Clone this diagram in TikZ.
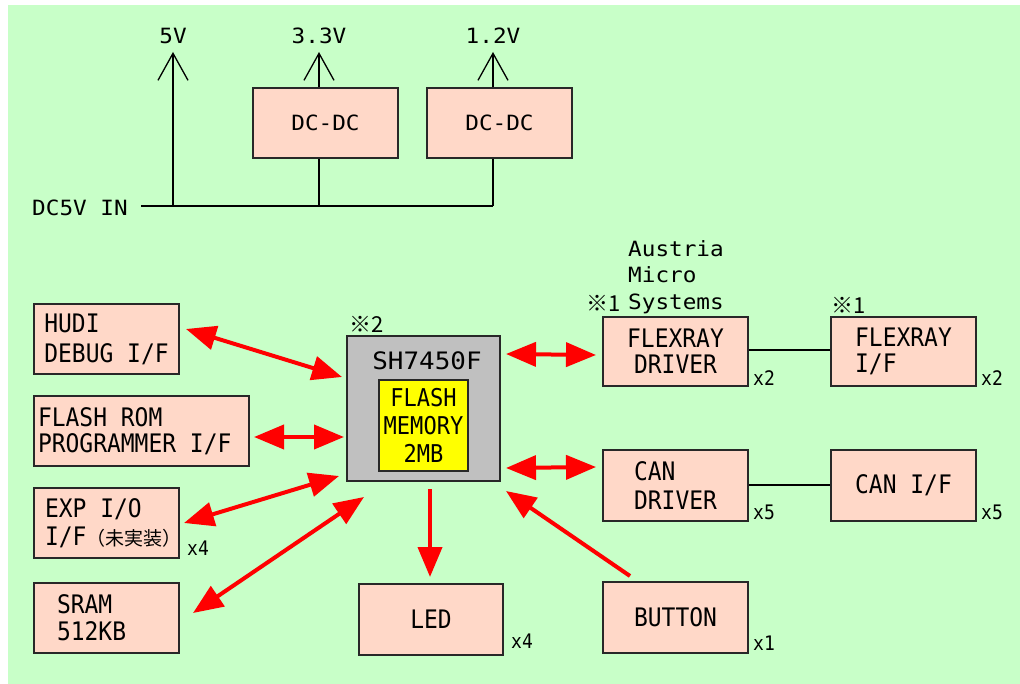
\documentclass[tikz,border=0pt]{standalone}
\usepackage{fontspec}
\usetikzlibrary{arrows.meta,calc}
\newfontfamily\gfont[FakeStretch=0.9,WordSpace={1,0,0}]{DejaVu Sans Mono}
\newfontfamily\gfontw[FakeStretch=1.08,WordSpace={1,0,0}]{DejaVu Sans Mono}
\newfontfamily\jfont{Noto Sans CJK JP}
\newcommand\mysp{\spaceskip=0pt\relax\xspaceskip=0pt\relax}
\definecolor{bggreen}{RGB}{200,255,200}
\definecolor{peach}{RGB}{255,216,200}
\definecolor{chipgray}{RGB}{192,192,192}
\definecolor{memyellow}{RGB}{255,255,0}
\definecolor{edge}{RGB}{40,40,40}
\begin{document}
\begin{tikzpicture}[x=1pt,y=-1pt,
  box/.style={draw=edge, line width=2pt, fill=peach, minimum width=145pt, minimum height=70pt, inner sep=0pt, align=center, font=\gfont\fontsize{25.5}{27}\selectfont},
  vlab/.style={inner sep=0pt, font=\gfontw\fontsize{21}{24}\selectfont},
  xlab/.style={inner sep=0pt, anchor=base west, font=\gfont\fontsize{20}{20}\selectfont},
  note/.style={inner sep=0pt, font=\jfont\fontsize{22}{24}\selectfont},
  wire/.style={draw=black, line width=2pt},
  varrow/.style={draw=black, line width=2pt, -{Straight Barb[length=27pt,width=30pt,line width=1.3pt]}},
  rtip/.tip={Triangle[length=30pt,width=24pt]},
  rarrow/.style={draw=red, line width=4pt, rtip-rtip},
  rarrowone/.style={draw=red, line width=4pt, -rtip}
]
\useasboundingbox (0,0) rectangle (1020,684);
\fill[white] (0,0) rectangle (1020,684);
\fill[bggreen] (8,5) rectangle (1020,684);

% ---------- power section ----------
\node[vlab] (v5) at (173,36) {5V};
\node[vlab] (v33) at (319,36) {3.3V};
\node[vlab] (v12) at (493,36) {1.2V};
\node[vlab, anchor=west] (dcin) at (32,208) {DC5V IN};
\node[box, font=\gfontw\fontsize{21}{26}\selectfont] (dc1) at (325.5,123) {DC-DC};
\node[box, font=\gfontw\fontsize{21}{26}\selectfont] (dc2) at (499.5,123) {DC-DC};

\coordinate (t5) at (173,52);
\coordinate (t33) at (319,52);
\coordinate (t12) at (493,52);
\coordinate (inS) at (141,206);
\coordinate (j5) at (173,206);
\coordinate (j33) at (319,206);
\coordinate (j12) at (493,206);

\draw[wire] (inS) -- (j12);
\draw[varrow] (j5) -- (t5);
\draw[wire] (j33) -- (j33 |- dc1.south);
\draw[varrow] (j33 |- dc1.north) -- (t33);
\draw[wire] (j12) -- (j12 |- dc2.south);
\draw[varrow] (j12 |- dc2.north) -- (t12);

% ---------- left column ----------
\node[box, align=left, font=\gfont\fontsize{25.5}{30}\selectfont] (hudi) at (106.5,339) {HUDI\\DEBUG I/F};
\node[box, minimum width=215pt, text width=207pt, inner xsep=4pt, align=left, font=\gfont\fontsize{25.5}{26}\selectfont] (from) at (141.5,431) {\mysp FLASH ROM\\PROGRAMMER I/F};
\node[box, text width=123pt, inner xsep=11pt, align=left, font=\gfont\fontsize{25.5}{28}\selectfont] (exp) at (106.5,523) {\mysp EXP I/O\\I/F{\jfont\fontsize{19}{20}\selectfont （未実装）}};
\node[box, text width=99pt, inner xsep=23pt, align=left, font=\gfont\fontsize{25.5}{27}\selectfont] (sram) at (106.5,618) {\mysp SRAM\\512KB};
\node[xlab] (xexp) at (187,555) {x4};

% ---------- CPU ----------
\node[draw=edge, line width=2pt, fill=chipgray, minimum width=153pt, minimum height=145pt, inner sep=0pt] (sh) at (423.5,408.5) {};
\node[inner sep=0pt, font=\gfontw\fontsize{24}{27}\selectfont] (shlab) at (427,361) {SH7450F};
\node[draw=edge, line width=2pt, fill=memyellow, minimum width=89pt, minimum height=91pt, inner sep=0pt, align=center, font=\gfont\fontsize{24.5}{28}\selectfont] (fm) at (423.5,425.5) {FLASH\\MEMORY\\2MB};
\node[note] (n2) at (367,324) {※2};

% ---------- bottom ----------
\node[box, minimum width=144pt, minimum height=71pt] (led) at (431,619.5) {LED};
\node[xlab] (xled) at (511,648) {x4};
\node[box, minimum height=71pt] (btn) at (675.5,617.5) {BUTTON};
\node[xlab] (xbtn) at (753,650) {x1};

% ---------- right side ----------
\node[box, minimum height=69pt, font=\gfont\fontsize{25.5}{26}\selectfont] (fxd) at (675.5,351.5) {FLEXRAY\\DRIVER};
\node[box, minimum height=69pt, align=left, font=\gfont\fontsize{25.5}{26}\selectfont] (fxi) at (903.5,351.5) {FLEXRAY\\I/F};
\node[box, minimum height=71pt, align=left, font=\gfont\fontsize{25.5}{29}\selectfont] (cand) at (675.5,485.5) {CAN\\DRIVER};
\node[box, minimum height=71pt] (cani) at (903.5,485.5) {CAN I/F};
\node[xlab] (xfxd) at (753,385) {x2};
\node[xlab] (xfxi) at (981,385) {x2};
\node[xlab] (xcand) at (753,519) {x5};
\node[xlab] (xcani) at (981,519) {x5};
\node[note] (n1a) at (603.5,303) {※1};
\node[note] (n1b) at (849,305) {※1};
\node[inner sep=0pt, anchor=north west, align=left, font=\gfontw\fontsize{21}{26.5}\selectfont] (ams) at (628,240) {Austria\\Micro\\Systems};

\draw[wire] (fxd.east |- 0,350) -- (fxi.west |- 0,350);
\draw[wire] (cand.east |- 0,485) -- (cani.west |- 0,485);

% ---------- red arrows ----------
\draw[rarrow] ([shift={(6,-10)}]hudi.east) -- ([shift={(-4,42)}]sh.north west);
\draw[rarrow] ([shift={(4,6)}]from.east) -- ([shift={(-2,28.5)}]sh.west);
\draw[rarrow] ([shift={(4,0)}]exp.east) -- ([shift={(-7,-6)}]sh.south west);
\draw[rarrow] ([shift={(13,-5)}]sram.east) -- ([shift={(18,15)}]sh.south west);
\draw[rarrowone] ([shift={(6.5,7)}]sh.south) -- ([shift={(-1,-6)}]led.north);
\draw[rarrow] ([shift={(5,19)}]sh.north east) -- ([shift={(-6,3.5)}]fxd.west);
\draw[rarrow] ([shift={(5,-14)}]sh.south east) -- ([shift={(-6,-18.5)}]cand.west);
\draw[rarrowone] ([shift={(-45.5,-5)}]btn.north) -- ([shift={(5,9)}]sh.south east);
\end{tikzpicture}
\end{document}
